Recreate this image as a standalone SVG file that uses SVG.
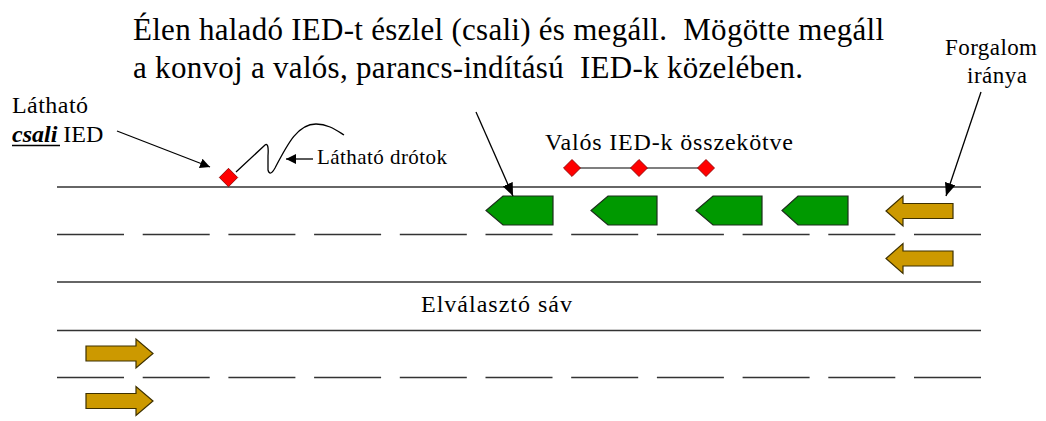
<svg xmlns="http://www.w3.org/2000/svg" width="1046" height="421" viewBox="0 0 1046 421">
  <style>
    .txt { font-family: "Liberation Serif", "Times New Roman", serif; fill: #000; white-space: pre; }
    .road { stroke: #333; stroke-width: 1.6; fill: none; }
    .dash { stroke: #333; stroke-width: 1.6; fill: none; stroke-dasharray: 67 18.7; }
    .car { fill: #009900; stroke: #1c2e1c; stroke-width: 1.2; }
    .flow { fill: #cc9900; stroke: #3d3000; stroke-width: 1.2; }
    .ied { fill: #ff0000; stroke: #8a0000; stroke-width: 0.8; }
    .lead { stroke: #000; stroke-width: 1.3; fill: none; }
  </style>
  <defs>
    <marker id="ah" viewBox="0 0 10 10" refX="10" refY="5" markerWidth="10" markerHeight="10" markerUnits="userSpaceOnUse" orient="auto">
      <path d="M0,0 L10,5 L0,10 z" fill="#000"/>
    </marker>
    <marker id="ahBig" viewBox="0 0 12 10" refX="12" refY="5" markerWidth="13" markerHeight="11" markerUnits="userSpaceOnUse" orient="auto">
      <path d="M0,0 L12,5 L0,10 z" fill="#000"/>
    </marker>
  </defs>

  <rect width="1046" height="421" fill="#fff"/>

  <!-- road markings -->
  <g id="road">
    <line class="road" x1="57" y1="187" x2="981" y2="187"/>
    <line class="dash" x1="57" y1="234.5" x2="981" y2="234.5"/>
    <line class="road" x1="57" y1="282" x2="981" y2="282"/>
    <line class="road" x1="57" y1="330.5" x2="981" y2="330.5"/>
    <line class="dash" x1="57" y1="377.5" x2="981" y2="377.5"/>
  </g>

  <!-- title text -->
  <g id="title">
    <text class="txt" x="133" y="40" font-size="31" textLength="751" lengthAdjust="spacing">Élen haladó IED-t észlel (csali) és megáll.  Mögötte megáll</text>
    <text class="txt" x="133" y="78" font-size="31" textLength="670" lengthAdjust="spacing">a konvoj a valós, parancs-indítású  IED-k közelében.</text>
  </g>

  <!-- traffic direction label -->
  <g id="traffic-label">
    <text class="txt" x="945" y="55" font-size="23" textLength="92" lengthAdjust="spacing">Forgalom</text>
    <text class="txt" x="967" y="83" font-size="23" textLength="60" lengthAdjust="spacing">iránya</text>
  </g>

  <!-- decoy IED label -->
  <g id="decoy-label">
    <text class="txt" x="12" y="113" font-size="24" textLength="76" lengthAdjust="spacing">Látható</text>
    <text class="txt" x="12" y="142" font-size="24"><tspan font-weight="bold" font-style="italic">csali</tspan> IED</text>
    <line x1="12" y1="145.5" x2="60" y2="145.5" stroke="#000" stroke-width="1.6"/>
  </g>

  <!-- decoy IED with visible wires -->
  <g id="decoy-ied">
    <path class="lead" d="M236,172 L265,145 Q269,142 268,156 L268,170 Q270,177 275,168 C288,143 298,124 316,124 C328,124 336,130 344,135"/>
    <rect class="ied" x="222" y="171" width="13" height="13" transform="rotate(45 228.5 177.5)"/>
  </g>

  <g id="wires-label">
    <text class="txt" x="317" y="164" font-size="21" textLength="130" lengthAdjust="spacing">Látható drótok</text>
  </g>

  <!-- real, linked IEDs -->
  <g id="real-ieds">
    <text class="txt" x="545" y="150" font-size="24" textLength="248" lengthAdjust="spacing">Valós IED-k összekötve</text>
    <line x1="572" y1="168" x2="706" y2="168" stroke="#555" stroke-width="1.5"/>
    <rect class="ied" x="566" y="162" width="12" height="12" transform="rotate(45 572 168)"/>
    <rect class="ied" x="633" y="162" width="12" height="12" transform="rotate(45 639 168)"/>
    <rect class="ied" x="700" y="162" width="12" height="12" transform="rotate(45 706 168)"/>
  </g>

  <g id="separator-label">
    <text class="txt" x="421" y="312" font-size="24" textLength="151" lengthAdjust="spacing">Elválasztó sáv</text>
  </g>

  <!-- convoy vehicles -->
  <g id="convoy">
    <polygon id="car1" class="car" points="503,196 553,196 553,225 503,225 486,210.5"/>
    <polygon id="car2" class="car" points="608,196 657,196 657,225 608,225 591,210.5"/>
    <polygon id="car3" class="car" points="713,196 762,196 762,225 713,225 696,210.5"/>
    <polygon id="car4" class="car" points="798,196 848,196 848,225 798,225 782,210.5"/>
  </g>

  <!-- traffic flow arrows -->
  <g id="flow-left">
    <polygon class="flow" points="953,203.5 903,203.5 903,196 886,211 903,226 903,218.5 953,218.5"/>
    <polygon class="flow" points="953,251 903,251 903,243.5 886,258.5 903,273.5 903,266 953,266"/>
  </g>
  <g id="flow-right">
    <polygon class="flow" points="86,346 136,346 136,339 153,353.5 136,368 136,361 86,361"/>
    <polygon class="flow" points="86,393.5 136,393.5 136,386.5 153,401 136,415.5 136,408.5 86,408.5"/>
  </g>

  <!-- leader arrows -->
  <g id="connectors">
    <line class="lead" x1="117" y1="131" x2="210" y2="167" marker-end="url(#ah)"/>
    <line class="lead" x1="313" y1="159" x2="286" y2="159" marker-end="url(#ah)"/>
    <line class="lead" x1="476" y1="112" x2="513" y2="196" marker-end="url(#ahBig)"/>
    <line class="lead" x1="981" y1="92" x2="946" y2="196" marker-end="url(#ahBig)"/>
  </g>
</svg>
